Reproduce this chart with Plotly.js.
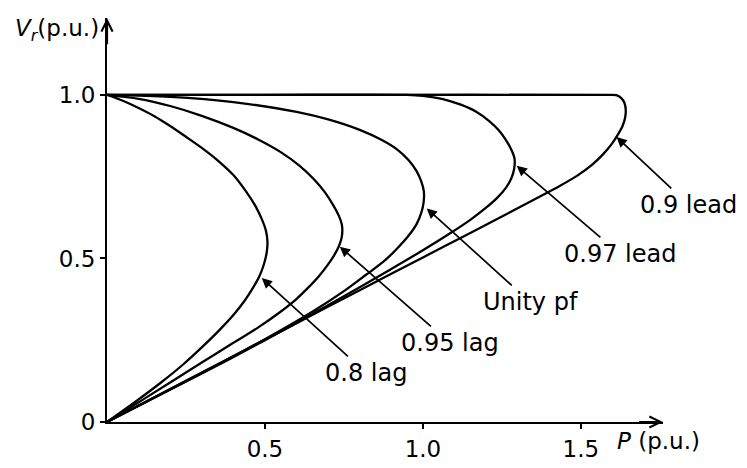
<!DOCTYPE html>
<html>
<head>
<meta charset="utf-8">
<script src="https://cdn.plot.ly/plotly-3.0.1.min.js"></script>
<style>html,body{margin:0;padding:0;background:#fff;}#chart{width:747px;height:468px;}</style>
</head>
<body>
<div id="chart"></div>
<script>
// P (p.u.) and Vr (p.u.), per power factor
var pLag08 = [0, 0.05, 0.1, 0.15, 0.2, 0.25, 0.3, 0.35, 0.4, 0.44, 0.47, 0.49, 0.503, 0.508, 0.505, 0.496, 0.482, 0.462, 0.435, 0.4, 0.355, 0.3, 0.24, 0.17, 0.09, 0];
var vLag08 = [1, 0.982, 0.96, 0.935, 0.905, 0.872, 0.838, 0.8, 0.755, 0.705, 0.66, 0.62, 0.585, 0.55, 0.515, 0.48, 0.445, 0.41, 0.37, 0.327, 0.28, 0.228, 0.175, 0.12, 0.062, 0];

var pLag095 = [0, 0.1, 0.2, 0.3, 0.4, 0.48, 0.55, 0.61, 0.655, 0.69, 0.716, 0.734, 0.743, 0.745, 0.742, 0.733, 0.718, 0.697, 0.67, 0.636, 0.595, 0.545, 0.48, 0.4, 0.3, 0.2, 0.1, 0];
var vLag095 = [1, 0.988, 0.966, 0.936, 0.899, 0.863, 0.825, 0.783, 0.742, 0.702, 0.663, 0.63, 0.605, 0.585, 0.56, 0.535, 0.508, 0.478, 0.445, 0.41, 0.372, 0.334, 0.29, 0.242, 0.182, 0.121, 0.06, 0];

var pUnity = [0, 0.2, 0.4, 0.6, 0.7, 0.8, 0.87, 0.92, 0.955, 0.98, 0.995, 1.003, 1.002, 0.995, 0.98, 0.955, 0.92, 0.875, 0.82, 0.75, 0.65, 0.5, 0.35, 0.2, 0];
var vUnity = [1, 0.994, 0.978, 0.948, 0.925, 0.893, 0.862, 0.832, 0.8, 0.767, 0.735, 0.705, 0.67, 0.64, 0.605, 0.57, 0.532, 0.49, 0.45, 0.4, 0.337, 0.253, 0.175, 0.1, 0];

var pLead097 = [0, 0.5, 0.95, 1.0, 1.06, 1.12, 1.17, 1.21, 1.24, 1.263, 1.28, 1.29, 1.289, 1.28, 1.262, 1.235, 1.2, 1.15, 1.08, 1.0, 0.9, 0.8, 0.65, 0.5, 0.3, 0];
var vLead097 = [1, 1, 1, 0.997, 0.988, 0.97, 0.948, 0.92, 0.892, 0.862, 0.832, 0.805, 0.775, 0.745, 0.715, 0.685, 0.655, 0.618, 0.573, 0.525, 0.468, 0.412, 0.33, 0.25, 0.148, 0];

var pLead09 = [0, 0.8, 1.59, 1.612, 1.628, 1.638, 1.642, 1.64, 1.632, 1.618, 1.598, 1.57, 1.535, 1.49, 1.43, 1.36, 1.27, 1.15, 1.0, 0.8, 0.6, 0.3, 0];
var vLead09 = [1, 1, 1, 0.999, 0.99, 0.975, 0.955, 0.93, 0.905, 0.88, 0.85, 0.818, 0.786, 0.754, 0.72, 0.684, 0.638, 0.578, 0.503, 0.403, 0.302, 0.151, 0];

var curveLabels = ['0.8 lag', '0.95 lag', 'Unity pf', '0.97 lead', '0.9 lead'];
var xTickVals = [0.5, 1.0, 1.5];
var xTickText = ['0.5', '1.0', '1.5'];
var yTickVals = [0, 0.5, 1.0];
var yTickText = ['0', '0.5', '1.0'];

var FONT = 'DejaVu Sans, Liberation Sans, Arial, sans-serif';
var series = [[pLag08, vLag08], [pLag095, vLag095], [pUnity, vUnity], [pLead097, vLead097], [pLead09, vLead09]];
var traces = series.map(function (s, i) {
  return {
    x: s[0], y: s[1], type: 'scatter', mode: 'lines', name: curveLabels[i],
    line: {color: '#000', width: 2.3, shape: 'spline', smoothing: 0.8},
    hoverinfo: 'skip', cliponaxis: false
  };
});

// label pointers: arrow tip [P, V] on the curve, label centre [P, V]
var arrowTips = [
  [0.49, 0.44],
  [0.737, 0.536],
  [1.012, 0.653],
  [1.297, 0.783],
  [1.613, 0.871]
];
var labelCentres = [
  [0.82, 0.15],
  [1.085, 0.242],
  [1.339, 0.367],
  [1.623, 0.514],
  [1.842, 0.664]
];

var annotations = [];
labelCentres.forEach(function (c, i) {
  annotations.push({
    x: arrowTips[i][0], y: arrowTips[i][1], ax: c[0], ay: c[1],
    xref: 'x', yref: 'y', axref: 'x', ayref: 'y',
    text: curveLabels[i], showarrow: true, arrowhead: 2, arrowsize: 1.2, arrowwidth: 1.7,
    arrowcolor: '#000', standoff: 0, borderpad: 2,
    font: {family: FONT, size: 24, color: '#000'}
  });
});
// axis arrowheads
annotations.push({x: 1.76, y: 0, ax: 1.68, ay: 0, xref: 'x', yref: 'y', axref: 'x', ayref: 'y', text: '',
  showarrow: true, arrowhead: 5, arrowsize: 1, arrowwidth: 2.2, arrowcolor: '#000', standoff: 0});
annotations.push({x: 0, y: 1.235, ax: 0, ay: 1.15, xref: 'x', yref: 'y', axref: 'x', ayref: 'y', text: '',
  showarrow: true, arrowhead: 5, arrowsize: 1, arrowwidth: 2.2, arrowcolor: '#000', standoff: 0});
// axis titles
annotations.push({xref: 'paper', yref: 'paper', x: 0, y: 1, xanchor: 'right', yanchor: 'middle', xshift: -6, yshift: -12,
  text: '<i>V<sub>r</sub></i>(p.u.)', showarrow: false, font: {family: FONT, size: 23, color: '#000'}});
annotations.push({xref: 'x', yref: 'paper', x: 1.608, y: 0, xanchor: 'left', yanchor: 'middle', yshift: -19,
  text: '<i>P</i> (p.u.)', showarrow: false, font: {family: FONT, size: 23, color: '#000'}});

var layout = {
  width: 747, height: 468,
  margin: {l: 107, r: 84, t: 18, b: 46, pad: 0},
  paper_bgcolor: '#fff', plot_bgcolor: '#fff',
  showlegend: false,
  font: {family: FONT, size: 24, color: '#000'},
  xaxis: {range: [0, 1.76], showgrid: false, zeroline: false, showline: true, linecolor: '#000', linewidth: 2,
    ticks: 'outside', ticklen: 5, tickwidth: 2, tickcolor: '#000',
    tickvals: xTickVals, ticktext: xTickText, tickfont: {family: FONT, size: 23, color: '#000'}},
  yaxis: {range: [0, 1.235], showgrid: false, zeroline: false, showline: true, linecolor: '#000', linewidth: 2,
    ticks: 'outside', ticklen: 5, tickwidth: 2, tickcolor: '#000',
    tickvals: yTickVals, ticktext: yTickText, tickfont: {family: FONT, size: 23, color: '#000'}},
  annotations: annotations
};

Plotly.newPlot('chart', traces, layout, {staticPlot: true, displayModeBar: false});
</script>
</body>
</html>
